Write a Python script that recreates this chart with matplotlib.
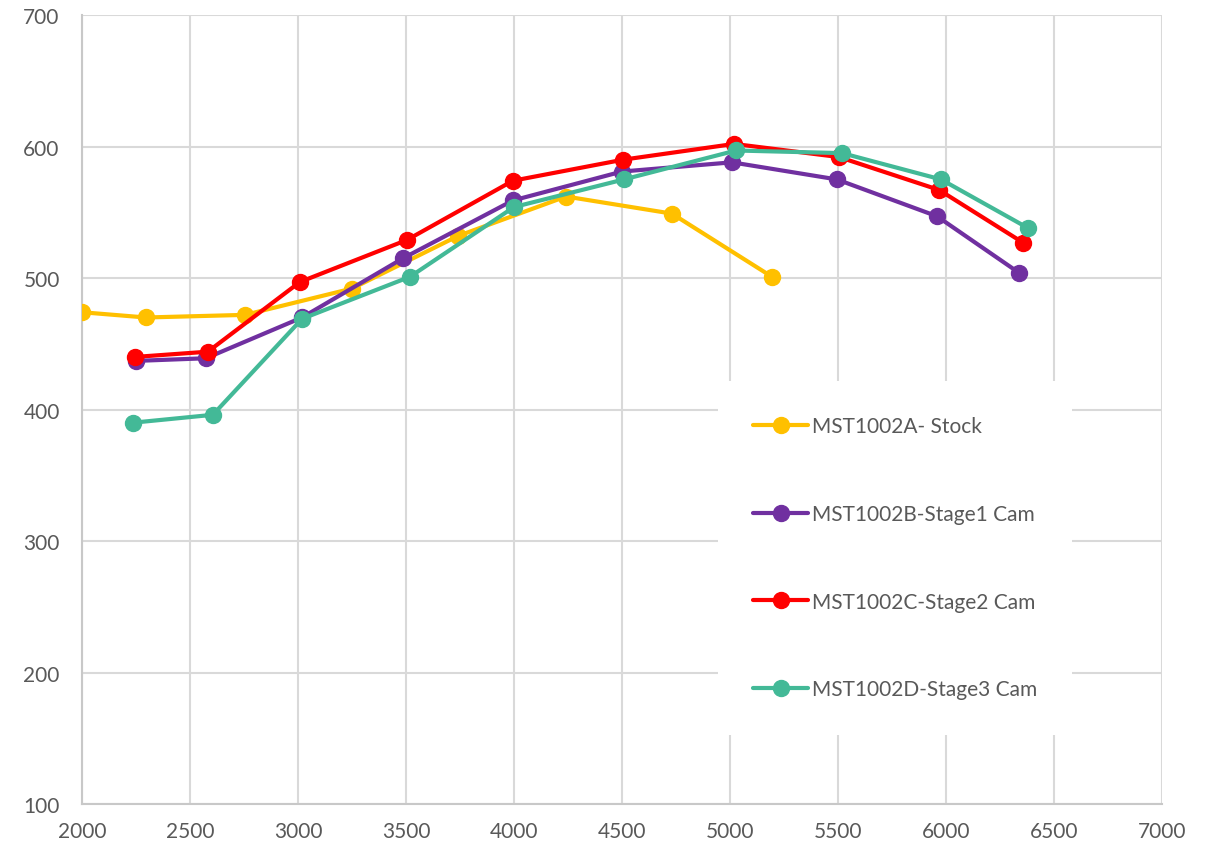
import matplotlib
matplotlib.use("Agg")
import matplotlib.pyplot as plt

plt.rcParams['font.family'] = ['Lato', 'DejaVu Sans']

# rpm / value readings per run
stock_x = [2000, 2296, 2755, 3250, 3741, 4241, 4731, 5194]
stock_y = [474, 470, 472, 492, 532, 562, 549, 501]

stage1_x = [2250, 2574, 3019, 3486, 3995, 4500, 5009, 5495, 5958, 6338]
stage1_y = [437, 439, 470, 515, 559, 581, 588, 575, 547, 504]

stage2_x = [2245, 2583, 3009, 3505, 3995, 4505, 5019, 5505, 5968, 6356]
stage2_y = [440, 444, 497, 529, 574, 590, 602, 592, 567, 527]

stage3_x = [2236, 2606, 3019, 3519, 4000, 4509, 5028, 5519, 5977, 6380]
stage3_y = [390, 396, 469, 501, 554, 575, 597, 595, 575, 538]

labels = ["MST1002A- Stock", "MST1002B-Stage1 Cam",
          "MST1002C-Stage2 Cam", "MST1002D-Stage3 Cam"]
colors = ["#FFC000", "#7030A0", "#FF0000", "#43B997"]

fig = plt.figure(figsize=(12.16, 8.45), dpi=100)
ax = fig.add_axes([0.0674, 0.0473, 0.8882, 0.9337])

series = [(stock_x, stock_y), (stage1_x, stage1_y),
          (stage2_x, stage2_y), (stage3_x, stage3_y)]
for (xs, ys), lab, c in zip(series, labels, colors):
    ax.plot(xs, ys, color=c, lw=3, marker='o', ms=11.5, label=lab,
            solid_capstyle='round', zorder=3)

ax.set_xlim(2000, 7000)
ax.set_ylim(100, 700)
ax.set_xticks(range(2000, 7001, 500))
ax.set_yticks(range(100, 701, 100))
ax.grid(True, color='#D9D9D9', lw=1.5, zorder=0)
ax.set_axisbelow(True)
for s in ['top', 'right']:
    ax.spines[s].set_visible(False)
for s in ['left', 'bottom']:
    ax.spines[s].set_color('#C8C8C8')
    ax.spines[s].set_linewidth(1.5)
ax.tick_params(length=0, labelsize=15, colors='#595959')
ax.tick_params(axis='x', pad=12)
ax.tick_params(axis='y', pad=16)

leg = ax.legend(loc='center', bbox_to_anchor=(0.753, 0.312), fontsize=15,
                frameon=True, facecolor='white', edgecolor='none', framealpha=1,
                labelspacing=3.25, handlelength=2.6, handletextpad=0.2,
                borderpad=1.7, borderaxespad=0)
for t in leg.get_texts():
    t.set_color('#595959')
leg.set_zorder(4)

fig.savefig("out.png", dpi=100)
